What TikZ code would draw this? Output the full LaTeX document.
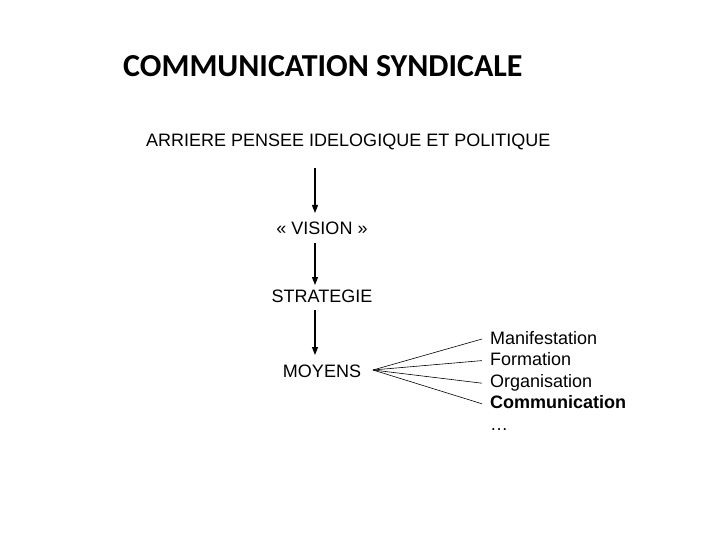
\documentclass[tikz,border=0pt]{standalone}
\usepackage{fontspec}
\setmainfont{Liberation Sans}
\newfontfamily\titlefont{Carlito}
\usepackage{tikz}
\usetikzlibrary{arrows.meta,positioning,calc}
\tikzset{
    titre/.style={anchor=base west, inner sep=0pt, font=\titlefont\bfseries\fontsize{32}{38}\selectfont},
    etape/.style={anchor=base, inner sep=0pt, font=\fontsize{18}{21}\selectfont},
    item/.style={anchor=base west, inner sep=0pt, font=\fontsize{18}{21}\selectfont},
    fleche/.style={line width=1.3pt, -{Triangle[length=8pt,width=6pt]}},
    branche/.style={line width=0.6pt, black},
}
\begin{document}
\begin{tikzpicture}[x=1pt,y=-1pt]
    \useasboundingbox (0,0) rectangle (720,540);

    % title
    \node[titre] (titre) at (123,77) {COMMUNICATION SYNDICALE};

    % chain of steps
    \node[etape, anchor=base west] (arriere) at (146,147) {ARRIERE PENSEE IDELOGIQUE ET POLITIQUE};
    \node[etape] (vision) at (322,235) {«~VISION~»};
    \node[etape] (strategie) at (322,302) {STRATEGIE};
    \node[etape] (moyens) at (322,377) {MOYENS};
    \coordinate (tige) at (315,0);

    \draw[fleche] (arriere.base -| tige) ++(0,21) -- ++(0,45);
    \draw[fleche] (vision.base -| tige) ++(0,8) -- ++(0,42);
    \draw[fleche] (strategie.base -| tige) ++(0,8) -- ++(0,45);

    % list of means
    \foreach \i/\txt in {0/Manifestation, 1/Formation, 2/Organisation, 3/\textbf{Communication}, 4/\dots} {
        \node[item] (m\i) at (490,{344+21.6*\i}) {\txt};
    }
    \coordinate (fan) at (373,370);
    \foreach \i/\dy in {0/-5, 1/-5, 2/-4, 3/-5} {
        \draw[branche] (fan) -- ($(m\i.base west)+(-8,\dy)$);
    }
\end{tikzpicture}
\end{document}
